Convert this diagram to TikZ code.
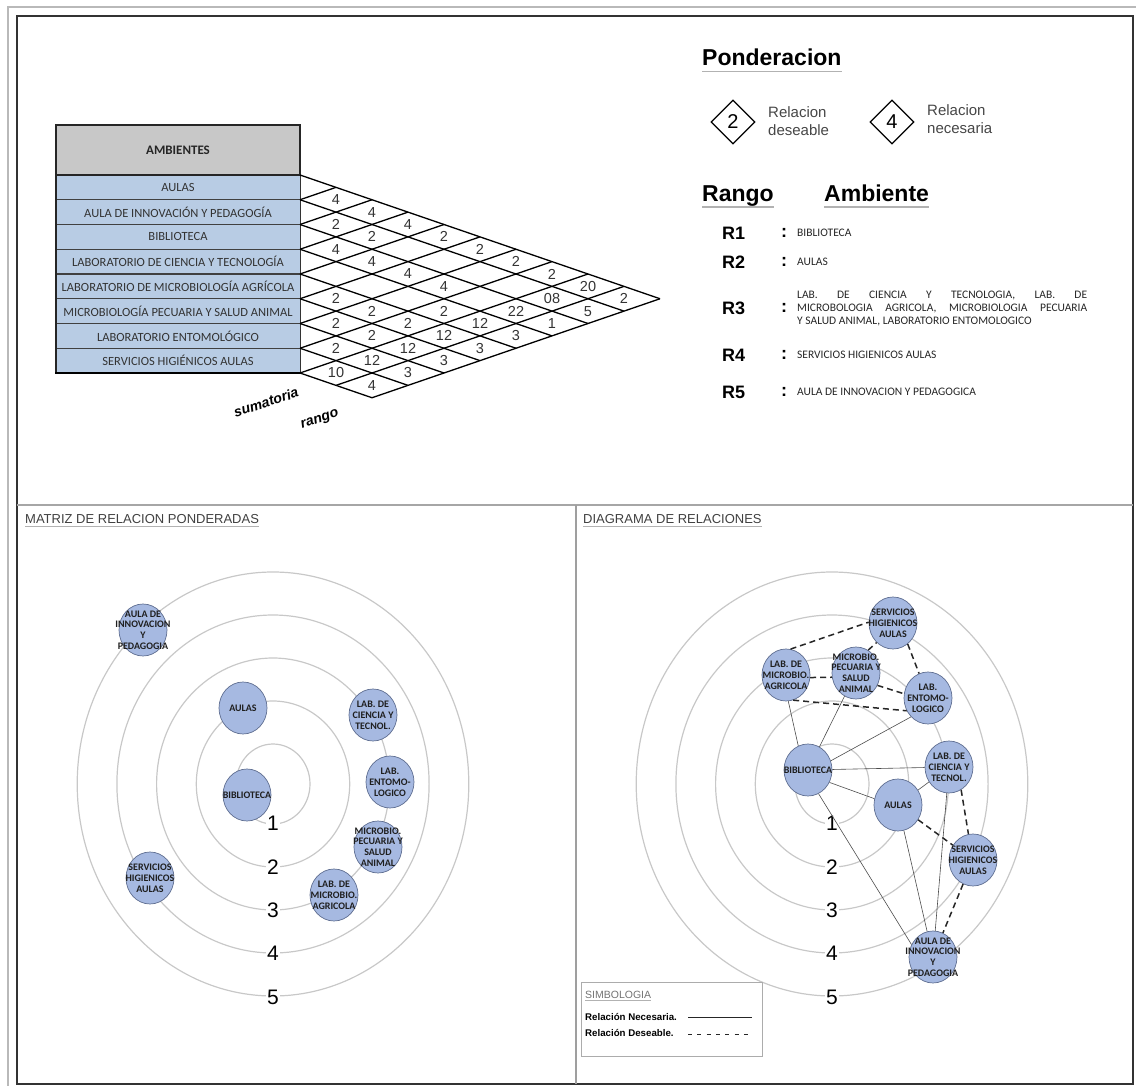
\documentclass[tikz,border=0pt]{standalone}
\usepackage{fontspec}
\setmainfont{Liberation Sans}
\newfontfamily\calib{Carlito}
\usetikzlibrary{shapes.geometric,calc}

\definecolor{rowblue}{RGB}{184,204,228}
\definecolor{hdrgray}{RGB}{200,200,200}
\definecolor{bubfill}{RGB}{166,185,225}
\definecolor{bubedge}{RGB}{95,110,145}
\definecolor{ringgray}{RGB}{200,200,200}
\definecolor{txtgray}{RGB}{70,70,70}

\begin{document}
\begin{tikzpicture}[x=1pt,y=-1pt,
  gridline/.style={line width=1.3pt, black},
  rowsep/.style={line width=1.1pt, black!75},
  cellnum/.style={font=\fontsize{14.5}{14.5}\selectfont, text=black!80, inner sep=0pt},
  rowtxt/.style={font=\calib\fontsize{12.5}{12.5}\selectfont, text=black!80, inner sep=0pt},
  hdrtxt/.style={font=\calib\bfseries\fontsize{13}{13}\selectfont, text=black!85, inner sep=0pt},
  axislbl/.style={font=\bfseries\itshape\fontsize{14}{14}\selectfont, inner sep=0pt, rotate=18},
  bigtitle/.style={font=\bfseries\fontsize{23}{23}\selectfont, inner sep=0pt},
  uline/.style={line width=1.8pt, gray!60},
  dia/.style={diamond, draw, line width=1.3pt, aspect=1, minimum width=44pt, minimum height=44pt, inner sep=0pt, font=\fontsize{20}{20}\selectfont},
  ponddesc/.style={font=\fontsize{15}{18}\selectfont, text=txtgray, align=left, inner sep=0pt, anchor=west},
  rlab/.style={font=\bfseries\fontsize{18}{18}\selectfont, inner sep=0pt, anchor=west},
  rcolon/.style={font=\bfseries\fontsize{18}{18}\selectfont, inner sep=0pt},
  rtxt/.style={font=\calib\fontsize{11.5}{13}\selectfont, text=black!85, inner sep=0pt, anchor=west, align=left},
  paneltitle/.style={font=\fontsize{13}{13}\selectfont, text=black!75, inner sep=0pt, anchor=base west},
  ring/.style={draw=ringgray, line width=1.2pt},
  ringnum/.style={font=\fontsize{21}{21}\selectfont, fill=white, inner sep=1pt},
  bub/.style={ellipse, draw=bubedge, fill=bubfill, line width=0.7pt, minimum width=48pt, minimum height=52pt, inner sep=0pt},
  bubtxt/.style={font=\calib\bfseries\fontsize{10}{10.8}\selectfont, text=black!88, align=center, inner sep=0pt},
  need/.style={line width=0.6pt, black!70},
  want/.style={line width=1.5pt, black!85, dash pattern=on 6pt off 4pt},
  legtxt/.style={font=\bfseries\fontsize{9.7}{9.7}\selectfont, inner sep=0pt, anchor=west}
]
\useasboundingbox (0,0) rectangle (1136,1086);

% ---------- sheet frame ----------
\draw[gray!55, line width=1.5pt] (8,1086) -- (8,7) -- (1136,7);
\draw[black!80, line width=2pt] (17,16) rectangle (1133,1084);
\draw[gray!70, line width=1.5pt] (17,505) -- (1133,505);
\draw[gray!75, line width=1.5pt] (576,505) -- (576,1084);

% ---------- table of spaces ----------
\fill[hdrgray] (56,125) rectangle (300,175);
\fill[rowblue] (56,175) rectangle (300,373);
\foreach \k in {1,...,7}
  \draw[rowsep] (56,{175+24.75*\k}) -- (300,{175+24.75*\k});
\draw[black!85, line width=1.4pt] (56,175) -- (300,175);
\draw[black!85, line width=1.6pt] (300,175) -- (300,125) -- (56,125) -- (56,373);
\draw[black!80, line width=1pt] (300,175) -- (300,373);
\draw[black, line width=2pt] (55,373) -- (300,373);

\node[hdrtxt] (hdr) at (178,150) {AMBIENTES};
\foreach \n [count=\i] in {AULAS, AULA DE INNOVACIÓN Y PEDAGOGÍA, BIBLIOTECA,
    LABORATORIO DE CIENCIA Y TECNOLOGÍA, LABORATORIO DE MICROBIOLOGÍA AGRÍCOLA,
    MICROBIOLOGÍA PECUARIA Y SALUD ANIMAL, LABORATORIO ENTOMOLÓGICO,
    SERVICIOS HIGIÉNICOS AULAS}
  \node[rowtxt] (amb\i) at (178,{175+24.75*(\i-0.5)}) {\n};

% ---------- weighted relation grid ----------
\foreach \a in {0,...,8}
  \draw[gridline] (300,{175+24.75*\a}) -- ({300+36*(10-\a)},{175+12.375*(\a+10)});
\foreach \b in {1,...,10}{
  \pgfmathsetmacro\sa{min(\b,8)}
  \draw[gridline] ({300+36*(\b-\sa)},{175+12.375*(\sa+\b)}) -- ({300+36*\b},{175+12.375*\b});
}
\foreach \i/\j/\v in {1/2/4,1/3/4,1/4/4,1/5/2,1/6/2,1/7/2,1/8/2,1/9/20,1/10/2,
    2/3/2,2/4/2,2/9/08,2/10/5,
    3/4/4,3/5/4,3/6/4,3/7/4,3/9/22,3/10/1,
    4/8/2,4/9/12,4/10/3,
    5/6/2,5/7/2,5/8/2,5/9/12,5/10/3,
    6/7/2,6/8/2,6/9/12,6/10/3,
    7/8/2,7/9/12,7/10/3,
    8/9/10,8/10/4}
  \node[cellnum] (c\i x\j) at ({300+36*(\j-\i)},{175+12.375*(\i+\j-1)}) {\v};

\node[axislbl] (sumlbl) at (266,402) {sumatoria};
\node[axislbl] (rnglbl) at (320,420) {rango};

% ---------- weighting key ----------
\node[bigtitle, anchor=base west] (pond) at (702,66) {Ponderacion};
\draw[uline] ($(pond.base west)+(0,5.5)$) -- ($(pond.base east)+(0,5.5)$);
\node[dia] (dw2) at (733,122) {2};
\node[ponddesc] (dw2t) at (768,121) {Relacion\\deseable};
\node[dia] (dw4) at (892,122) {4};
\node[ponddesc] (dw4t) at (927,119) {Relacion\\necesaria};

\node[bigtitle, anchor=base west] (rng) at (702,202) {Rango};
\draw[uline] ($(rng.base west)+(0,5)$) -- ($(rng.base east)+(0,5)$);
\node[bigtitle, anchor=base west] (ambh) at (824,202) {Ambiente};
\draw[uline] ($(ambh.base west)+(0,5)$) -- ($(ambh.base east)+(0,5)$);

\foreach \k/\yy in {1/233,2/262,3/308,4/355,5/392}{
  \node[rlab] (r\k) at (722,\yy) {R\k};
  \node[rcolon] (rc\k) at (784,\yy) {:};
}
\node[rtxt] (rt1) at (797,233) {BIBLIOTECA};
\node[rtxt] (rt2) at (797,262) {AULAS};
\node[rtxt] (rt3) at (797,309) {\makebox[290pt][s]{LAB. DE CIENCIA Y TECNOLOGIA, LAB. DE}\\
  \makebox[290pt][s]{MICROBOLOGIA AGRICOLA, MICROBIOLOGIA PECUARIA}\\
  Y SALUD ANIMAL, LABORATORIO ENTOMOLOGICO};
\node[rtxt] (rt4) at (797,355) {SERVICIOS HIGIENICOS AULAS};
\node[rtxt] (rt5) at (797,392) {AULA DE INNOVACION Y PEDAGOGICA};

% ---------- panel titles ----------
\node[paneltitle] (ptl) at (25,523) {MATRIZ DE RELACION PONDERADAS};
\draw[gray!60, line width=1pt] ($(ptl.base west)+(0,3)$) -- ($(ptl.base east)+(0,3)$);
\node[paneltitle] (ptr) at (583,523) {DIAGRAMA DE RELACIONES};
\draw[gray!60, line width=1pt] ($(ptr.base west)+(0,3)$) -- ($(ptr.base east)+(0,3)$);

% ---------- rank rings ----------
\foreach \cx/\side in {273/L,832/R}{
  \foreach \k in {1,...,5}{
    \draw[ring] (\cx,784) ellipse [x radius={37+39.7*(\k-1)}, y radius={40+43*(\k-1)}];
  }
  \foreach \k/\yy in {1/823,2/867,3/910,4/953,5/997}
    \node[ringnum] (n\side\k) at (\cx,\yy) {\k};
}

% ---------- left panel: spaces placed by rank ----------
\foreach \nm/\px/\py/\t in {
    LA/143/630/{AULA DE\\INNOVACION\\Y\\PEDAGOGIA},
    LB/243/708/{AULAS},
    LC/373/715/{LAB. DE\\CIENCIA Y\\TECNOL.},
    LD/390/782/{LAB.\\ENTOMO-\\LOGICO},
    LE/247/795/{BIBLIOTECA},
    LF/378/847/{MICROBIO.\\PECUARIA Y\\SALUD\\ANIMAL},
    LG/334/895/{LAB. DE\\MICROBIO.\\AGRICOLA},
    LH/150/878/{SERVICIOS\\HIGIENICOS\\AULAS}}{
  \node[bub] (\nm) at (\px,\py) {};
  \node[bubtxt] (\nm t) at (\nm) {\t};
}

% ---------- right panel: relation diagram ----------
\foreach \nm/\px/\py in {RS/893/623, RG/786/675, RF/856/673, RD/928/698,
    RE/808/770, RC/949/767, RB/898/805, RT/973/860, RA/933/957}
  \node[bub] (\nm) at (\px,\py) {};

% necessary relations
\draw[need] (RG.-85) -- (RE.112);
\draw[need] (RF) -- (RE);
\draw[need] (RD.228) -- (RE.22);
\draw[need] (RE) -- (RC);
\draw[need] (RE.-30) -- (RB.165);
\draw[need] (RB) -- (RC);
\draw[need] (RE.-66) -- (RA.150);
\draw[need] (RB) -- (RA);
\draw[need] (RC) -- (RA);
% desirable relations
\draw[want] (RG.80) -- (RS.178);
\draw[want] (RF.62) -- (RS.230);
\draw[want] (RS.-55) -- (RD.110);
\draw[want] (RG.-6) -- (RF.190);
\draw[want] (RF.-30) -- (RD.170);
\draw[want] (RG.-74) -- (RD.211);
\draw[want] (RC.-62) -- (RT.100);
\draw[want] (RB) -- (RT);
\draw[want] (RT) -- (RA);

\foreach \nm/\t in {
    RS/{SERVICIOS\\HIGIENICOS\\AULAS},
    RG/{LAB. DE\\MICROBIO.\\AGRICOLA},
    RF/{MICROBIO.\\PECUARIA Y\\SALUD\\ANIMAL},
    RD/{LAB.\\ENTOMO-\\LOGICO},
    RE/{BIBLIOTECA},
    RC/{LAB. DE\\CIENCIA Y\\TECNOL.},
    RB/{AULAS},
    RT/{SERVICIOS\\HIGIENICOS\\AULAS},
    RA/{AULA DE\\INNOVACION\\Y\\PEDAGOGIA}}
  \node[bubtxt] (\nm t) at (\nm) {\t};

% ---------- key of line styles ----------
\node[draw=gray!65, line width=1pt, minimum width=181pt, minimum height=74pt, inner sep=0pt, anchor=north west] (legbox) at (581,982) {};
\node[font=\fontsize{10.5}{10.5}\selectfont, text=gray!90!black, inner sep=0pt, anchor=base west] (legttl) at (585,998) {SIMBOLOGIA};
\draw[gray!60, line width=0.8pt] ($(legttl.base west)+(0,2.5)$) -- ($(legttl.base east)+(0,2.5)$);
\node[legtxt] (legn) at (585,1017) {Relación Necesaria.};
\node[legtxt] (legd) at (585,1033) {Relación Deseable.};
\coordinate (ln0) at (688,1017);
\coordinate (ln1) at (752,1017);
\coordinate (ld0) at (688,1034);
\coordinate (ld1) at (752,1034);
\draw[black!85, line width=0.9pt] (ln0) -- (ln1);
\draw[black!85, line width=0.9pt, dash pattern=on 4pt off 5.3pt] (ld0) -- (ld1);
\end{tikzpicture}
\end{document}
